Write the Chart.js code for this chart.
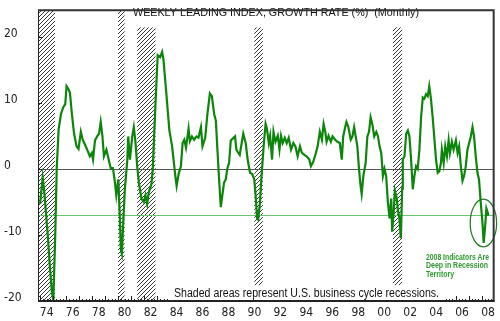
<!DOCTYPE html>
<html>
<head>
<meta charset="utf-8">
<script src="https://cdn.jsdelivr.net/npm/chart.js@4.4.1/dist/chart.umd.min.js"></script>
<style>
  html, body { margin: 0; padding: 0; background: #fff; }
  #wrap { width: 500px; height: 321px; }
</style>
</head>
<body>
<div id="wrap"><canvas id="chart" width="500" height="321"></canvas></div>
<script>
// weekly leading index growth rate (decimal years)
var years = [
  1973.99,1974.19,1974.32,1974.58,1974.75,1974.91,1975.01,1975.16,1975.27,1975.42,
  1975.60,1975.77,1975.93,1976.03,1976.19,1976.29,1976.44,1976.61,1976.80,1976.95,
  1977.13,1977.26,1977.46,1977.64,1977.82,1977.97,1978.07,1978.22,1978.41,1978.53,
  1978.66,1978.79,1978.91,1979.10,1979.25,1979.43,1979.60,1979.76,1979.86,1980.02,
  1980.12,1980.22,1980.29,1980.40,1980.52,1980.71,1980.78,1980.91,1981.09,1981.21,
  1981.34,1981.47,1981.60,1981.80,1981.98,1982.11,1982.24,1982.36,1982.57,1982.67,
  1982.88,1983.05,1983.24,1983.39,1983.49,1983.70,1983.95,1984.16,1984.41,1984.51,
  1984.66,1984.84,1984.97,1985.10,1985.23,1985.43,1985.53,1985.69,1985.86,1986.04,
  1986.19,1986.38,1986.50,1986.71,1986.88,1987.07,1987.22,1987.40,1987.53,1987.65,
  1987.78,1987.91,1988.03,1988.16,1988.29,1988.42,1988.55,1988.68,1988.85,1989.01,
  1989.11,1989.26,1989.37,1989.52,1989.64,1989.83,1989.98,1990.16,1990.33,1990.49,
  1990.59,1990.71,1990.79,1990.92,1991.05,1991.23,1991.36,1991.46,1991.61,1991.71,
  1991.86,1991.97,1992.12,1992.30,1992.43,1992.55,1992.68,1992.84,1992.99,1993.14,
  1993.32,1993.50,1993.66,1993.83,1994.01,1994.16,1994.35,1994.52,1994.73,1994.85,
  1995.04,1995.19,1995.37,1995.54,1995.70,1995.83,1995.96,1996.06,1996.21,1996.39,
  1996.52,1996.72,1996.90,1997.08,1997.23,1997.34,1997.49,1997.59,1997.74,1997.92,
  1998.05,1998.18,1998.30,1998.43,1998.56,1998.68,1998.76,1998.89,1999.07,1999.20,
  1999.33,1999.45,1999.58,1999.73,1999.89,2000.02,2000.14,2000.27,2000.40,2000.52,
  2000.65,2000.78,2000.91,2001.04,2001.11,2001.24,2001.32,2001.47,2001.55,2001.67,
  2001.78,2001.88,2001.93,2002.06,2002.19,2002.32,2002.44,2002.57,2002.70,2002.82,
  2002.95,2003.08,2003.21,2003.34,2003.47,2003.59,2003.72,2003.85,2003.97,2004.10,
  2004.23,2004.35,2004.49,2004.62,2004.74,2004.87,2004.94,2005.08,2005.20,2005.33,
  2005.46,2005.56,2005.71,2005.84,2006.02,2006.15,2006.27,2006.40,2006.53,2006.65,
  2006.78,2006.91,2007.04,2007.17,2007.30,2007.42,2007.55,2007.68,2007.80,2007.93,
  2008.06,2008.16,2008.26,2008.37,2008.47,2008.52
];
var growth = [
  -5.3,-1.3,-3.6,-10,-15,-18.8,-19.8,-10,0,6,
  8.3,9.3,9.8,12.5,12.0,11.5,8.3,5.3,3.4,3.0,
  5.6,4.5,3.6,2.8,1.9,2.4,1.4,4.3,5.0,5.3,
  7.1,5.0,1.9,2.9,1.6,0.1,0.1,-2.1,-4.0,-1.6,
  -6.7,-12.4,-12.9,-8.0,-3.1,1.4,4.9,1.4,4.9,6.3,
  4.0,0.4,-2.1,-4.5,-5.0,-4.0,-5.3,-3.6,-2.3,0,
  9.8,17.2,16.9,17.7,16.6,11.8,5.8,3.4,-1.1,-2.6,
  -0.8,0.4,3.9,4.4,3.2,6.1,4.2,4.9,4.4,4.9,
  4.7,6.3,3.4,4.7,8.3,11.4,11.0,8.3,7.3,2.9,
  -1.6,-5.8,-4.0,-2.1,-1.6,0.1,0.9,4.3,4.6,4.9,
  2.9,2.4,2.1,3.9,5.3,3.9,1.4,-0.6,-0.8,-1.6,
  -4.0,-7.5,-7.7,-5.3,-1.1,3.9,6.8,6.1,3.9,5.0,
  1.4,5.6,4.1,5.0,2.9,5.0,3.9,4.7,3.9,4.7,
  2.9,3.9,3.4,1.9,3.4,2.4,2.1,1.9,1.4,0.4,
  1.1,2.1,3.4,5.6,4.4,6.8,5.6,4.1,5.0,4.1,
  4.9,4.4,4.1,3.9,1.4,4.9,6.3,7.1,6.3,4.4,
  4.9,6.3,4.9,3.4,-0.1,-2.6,-3.8,-1.1,0.9,4.9,
  5.6,7.8,6.8,4.9,5.6,4.9,3.4,2.4,-1.1,0,
  -1.1,-5.0,-7.5,-4.5,-9.5,-6.2,-3.3,-4.5,-6.2,-7.5,
  -10.5,-3.0,1.4,1.9,5.3,5.8,4.9,1.4,-3.1,-1.1,
  0.4,0,2.9,7.8,10.8,10.6,11.3,11.0,12.5,10.6,
  7.8,4.9,1.4,-0.6,-0.4,0.9,2.9,0.9,3.4,1.9,
  4.3,2.4,4.1,2.9,4.3,2.4,3.4,0.4,-1.8,-1.1,
  0.4,2.9,3.9,4.9,6.3,4.9,1.9,-0.6,-1.6,-5.0,
  -8.0,-11.2,-9.0,-6.0,-6.6,-7.1
];

// x labels sit in the middle of each year
var labelYears = [1974,1976,1978,1980,1982,1984,1986,1988,1990,1992,1994,1996,1998,2000,2002,2004,2006,2008];
var yTicks = [-20, -10, 0, 10, 20];

// recessions (start / end, decimal years)
var recessionStart = [1973.80, 1980.00, 1981.47, 1990.49, 2001.17];
var recessionEnd   = [1975.14, 1980.50, 1982.88, 1991.15, 2001.88];
var recessionTop    = [24, 24, 21.4, 21.4, 21.4];
var recessionBottom = [-20, -20, -20, -17.6, -17.6];

var zeroLine = 0;
var recessionLine = -7;

var titleText = 'WEEKLY LEADING INDEX, GROWTH RATE (%)  (Monthly)';
var footText = 'Shaded areas represent U.S. business cycle recessions.';
var noteLines = ['2008 Indicators Are', 'Deep in Recession', 'Territory'];

var narrow = "'Liberation Sans Narrow', 'DejaVu Sans Condensed', Arial, sans-serif";
var sans = "'Liberation Sans', Arial, sans-serif";

function hatchPattern(ctx) {
  var c = document.createElement('canvas');
  c.width = 4; c.height = 4;
  var g = c.getContext('2d');
  g.strokeStyle = '#3a3a3a';
  g.lineWidth = 1;
  g.beginPath();
  g.moveTo(0, 4); g.lineTo(4, 0);
  g.moveTo(-1, 1); g.lineTo(1, -1);
  g.moveTo(3, 5); g.lineTo(5, 3);
  g.stroke();
  return ctx.createPattern(c, 'repeat');
}

// draw text squeezed/stretched to a given width
function fitText(ctx, text, x, y, width) {
  var w = ctx.measureText(text).width;
  ctx.save();
  ctx.translate(x, y);
  ctx.scale(width / w, 1);
  ctx.fillText(text, 0, 0);
  ctx.restore();
}

var decor = {
  id: 'decor',
  beforeDatasetsDraw: function(chart) {
    var ctx = chart.ctx, a = chart.chartArea;
    var x = chart.scales.x, y = chart.scales.y;
    ctx.save();
    ctx.beginPath();
    ctx.rect(a.left, a.top, a.right - a.left, a.bottom - a.top);
    ctx.clip();

    // shaded recessions
    ctx.fillStyle = hatchPattern(ctx);
    recessionStart.forEach(function(s, i) {
      var x0 = Math.max(a.left, x.getPixelForValue(s));
      var x1 = x.getPixelForValue(recessionEnd[i]);
      var y0 = y.getPixelForValue(recessionTop[i]);
      var y1 = y.getPixelForValue(recessionBottom[i]);
      ctx.fillRect(x0, y0, x1 - x0, y1 - y0);
    });

    // reference lines
    ctx.lineWidth = 1;
    ctx.strokeStyle = '#555';
    var yz = Math.round(y.getPixelForValue(zeroLine)) + 0.5;
    ctx.beginPath(); ctx.moveTo(a.left, yz); ctx.lineTo(a.right, yz); ctx.stroke();
    ctx.strokeStyle = '#6cc46c';
    var yr = Math.round(y.getPixelForValue(recessionLine)) + 0.5;
    ctx.beginPath(); ctx.moveTo(a.left, yr); ctx.lineTo(a.right, yr); ctx.stroke();
    ctx.restore();
  },
  afterDatasetsDraw: function(chart) {
    var ctx = chart.ctx, a = chart.chartArea;
    var x = chart.scales.x, y = chart.scales.y;
    ctx.save();

    // small ticks on the time axis, quarters and years
    ctx.strokeStyle = '#222';
    ctx.lineWidth = 1;
    ctx.beginPath();
    for (var q = 1974 * 4; q <= 2008 * 4 + 3; q++) {
      var px = Math.round(x.getPixelForValue(q / 4)) + 0.5;
      var len = (q % 4 === 0) ? 5 : 2;
      ctx.moveTo(px, a.bottom);
      ctx.lineTo(px, a.bottom - len);
    }
    // ticks on the value axis
    yTicks.forEach(function(v) {
      var py = Math.round(y.getPixelForValue(v)) + 0.5;
      ctx.moveTo(a.left, py);
      ctx.lineTo(a.left + 4, py);
    });
    ctx.stroke();

    // footnote box
    ctx.fillStyle = '#fff';
    ctx.fillRect(170, 286, 276, a.bottom - 286);
    ctx.fillStyle = '#111';
    ctx.textAlign = 'left';
    ctx.textBaseline = 'middle';
    ctx.font = '12px ' + sans;
    fitText(ctx, footText, 174, 294, 265);

    // title
    ctx.font = '11px ' + sans;
    fitText(ctx, titleText, 133, 13, 286);

    // note
    ctx.fillStyle = '#2e9a2e';
    ctx.font = 'bold 8.5px ' + sans;
    fitText(ctx, noteLines[0], 426, 257.5, 63);
    fitText(ctx, noteLines[1], 426, 266, 62);
    fitText(ctx, noteLines[2], 426, 274.5, 28);

    // ring round the 2008 dip
    var cx = x.getPixelForValue(2008.14), cy = y.getPixelForValue(-8.2);
    var rx = x.getPixelForValue(2008.14 + 1.02) - cx;
    var ry = y.getPixelForValue(-8.2 - 3.6) - cy;
    ctx.strokeStyle = '#1f7a1f';
    ctx.lineWidth = 1.2;
    ctx.beginPath();
    ctx.ellipse(cx, cy, rx, ry, 0, 0, Math.PI * 2);
    ctx.stroke();

    // frame
    ctx.strokeStyle = '#333';
    ctx.lineWidth = 2;
    ctx.beginPath();
    ctx.moveTo(a.left, a.top); ctx.lineTo(a.right, a.top); ctx.lineTo(a.right, a.bottom);
    ctx.stroke();
    ctx.strokeStyle = '#222';
    ctx.beginPath();
    ctx.moveTo(a.left, a.bottom); ctx.lineTo(a.right + 1, a.bottom);
    ctx.stroke();
    ctx.lineWidth = 1;
    ctx.beginPath();
    ctx.moveTo(a.left + 0.5, a.top); ctx.lineTo(a.left + 0.5, a.bottom);
    ctx.stroke();
    ctx.restore();
  }
};

var points = years.map(function(yr, i) { return { x: yr, y: growth[i] }; });

new Chart(document.getElementById('chart').getContext('2d'), {
  type: 'line',
  data: {
    datasets: [{
      data: points,
      borderColor: '#0b860b',
      borderWidth: 2.2,
      pointRadius: 0,
      tension: 0,
      fill: false
    }]
  },
  options: {
    responsive: false,
    animation: false,
    devicePixelRatio: 1,
    layout: { padding: { left: 4, right: 4, top: 4, bottom: 0 } },
    plugins: { legend: { display: false }, tooltip: { enabled: false } },
    scales: {
      x: {
        type: 'linear',
        min: 1973.83,
        max: 2008.93,
        afterFit: function(s) { s.height = 20; },
        afterBuildTicks: function(s) {
          s.ticks = labelYears.map(function(v) { return { value: v + 0.5 }; });
        },
        grid: { display: false, drawTicks: false },
        border: { display: false },
        ticks: {
          padding: 5,
          autoSkip: false,
          maxRotation: 0,
          color: '#222',
          font: { family: narrow, size: 12 },
          callback: function(v) { return String(Math.floor(v) % 100).padStart(2, '0'); }
        }
      },
      y: {
        min: -20,
        max: 24,
        afterFit: function(s) { s.width = 34; },
        afterBuildTicks: function(s) {
          s.ticks = yTicks.map(function(v) { return { value: v }; });
        },
        grid: { display: false, drawTicks: false },
        border: { display: false },
        ticks: {
          crossAlign: 'far',
          labelOffset: -3,
          color: '#222',
          font: { family: narrow, size: 12 }
        }
      }
    }
  },
  plugins: [decor]
});
</script>
</body>
</html>
